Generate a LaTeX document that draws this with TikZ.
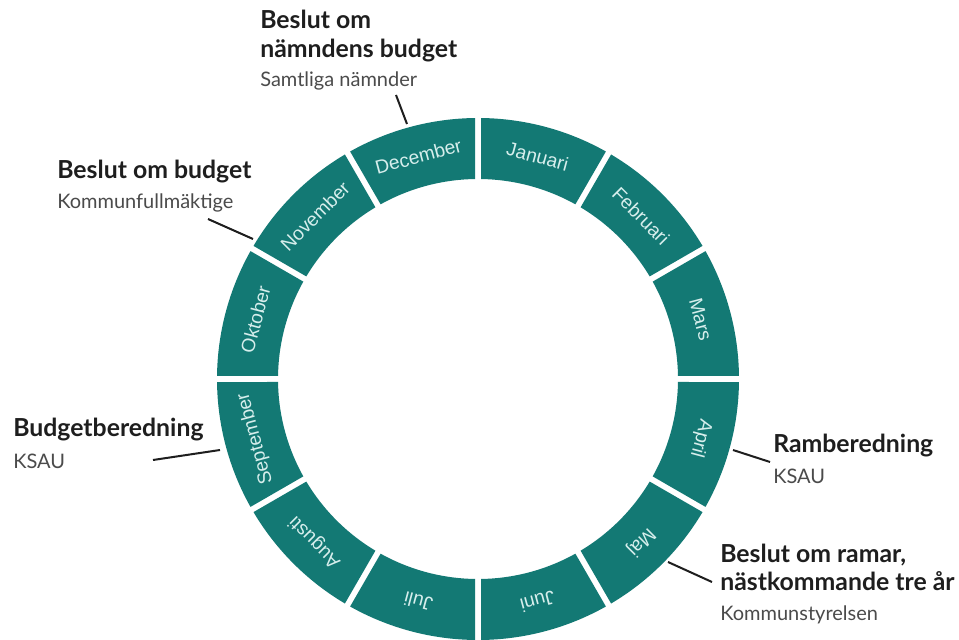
\documentclass[tikz,border=0pt]{standalone}
\usepackage{fontspec}
\setmainfont{Lato}
\newfontfamily\monthfont{Liberation Sans}
\definecolor{ringteal}{RGB}{19,121,116}
\definecolor{monthtxt}{RGB}{214,238,236}
\definecolor{headtxt}{RGB}{30,30,30}
\definecolor{subtxt}{RGB}{75,75,75}
\begin{document}
\begin{tikzpicture}[x=0.75pt,y=0.75pt,
  seg/.style={fill=ringteal},
  monthlbl/.style={font=\monthfont\fontsize{14.4pt}{16pt}\selectfont, text=monthtxt, inner sep=0pt},
  head/.style={font=\bfseries\fontsize{18.6pt}{21.75pt}\selectfont, text=headtxt, anchor=base west, inner sep=0pt},
  sub/.style={font=\fontsize{15pt}{17pt}\selectfont, text=subtxt, anchor=base west, inner sep=0pt},
  leader/.style={draw=headtxt, line width=1.5pt}]
\clip (0,0) rectangle (959,639);
\fill[white] (0,0) rectangle (959,639);
\begin{scope}[shift={(478,260)}]
\foreach \m [count=\i from 0] in {Januari,Februari,Mars,April,Maj,Juni,Juli,Augusti,September,Oktober,November,December} {
  \pgfmathsetmacro\ao{90-30*\i-0.66}
  \pgfmathsetmacro\bo{90-30*\i-30+0.66}
  \pgfmathsetmacro\ai{90-30*\i-0.86}
  \pgfmathsetmacro\bi{90-30*\i-30+0.86}
  \pgfmathsetmacro\c{90-30*\i-15}
  \pgfmathsetmacro\r{\c-90}
  \fill[seg] (\ao:261) arc[start angle=\ao, end angle=\bo, radius=261] -- (\bi:200) arc[start angle=\bi, end angle=\ai, radius=200] -- cycle;
  \node[monthlbl, rotate=\r] (m\i) at (\c:230.5) {\m};
}
\end{scope}

% Top label
\node[head] (h1a) at (260,610) {Beslut om};
\node[head] (h1b) at (260,581) {nämndens budget};
\node[sub] (s1) at (260,552) {Samtliga nämnder};
\coordinate (a1) at (396,544);
\coordinate (b1) at (407,515);
\draw[leader] (a1) -- (b1);

% Beslut om budget
\node[head] (h2) at (57,460) {Beslut om budget};
\node[sub] (s2) at (57,430) {Kommunfullmäktige};
\coordinate (a2) at (208,420);
\coordinate (b2) at (253,400);
\draw[leader] (a2) -- (b2);

% Budgetberedning
\node[head] (h3) at (13,202) {Budgetberedning};
\node[sub] (s3) at (13,171) {KSAU};
\coordinate (a3) at (153,179);
\coordinate (b3) at (220,189);
\draw[leader] (a3) -- (b3);

% Ramberedning
\node[head] (h4) at (773,186) {Ramberedning};
\node[sub] (s4) at (773,156) {KSAU};
\coordinate (a4) at (733,189);
\coordinate (b4) at (770,177);
\draw[leader] (a4) -- (b4);

% Beslut om ramar
\node[head] (h5a) at (720,77) {Beslut om ramar,};
\node[head] (h5b) at (720,49) {nästkommande tre år};
\node[sub] (s5) at (720,19) {Kommunstyrelsen};
\coordinate (a5) at (668,77);
\coordinate (b5) at (712,57);
\draw[leader] (a5) -- (b5);
\end{tikzpicture}
\end{document}
